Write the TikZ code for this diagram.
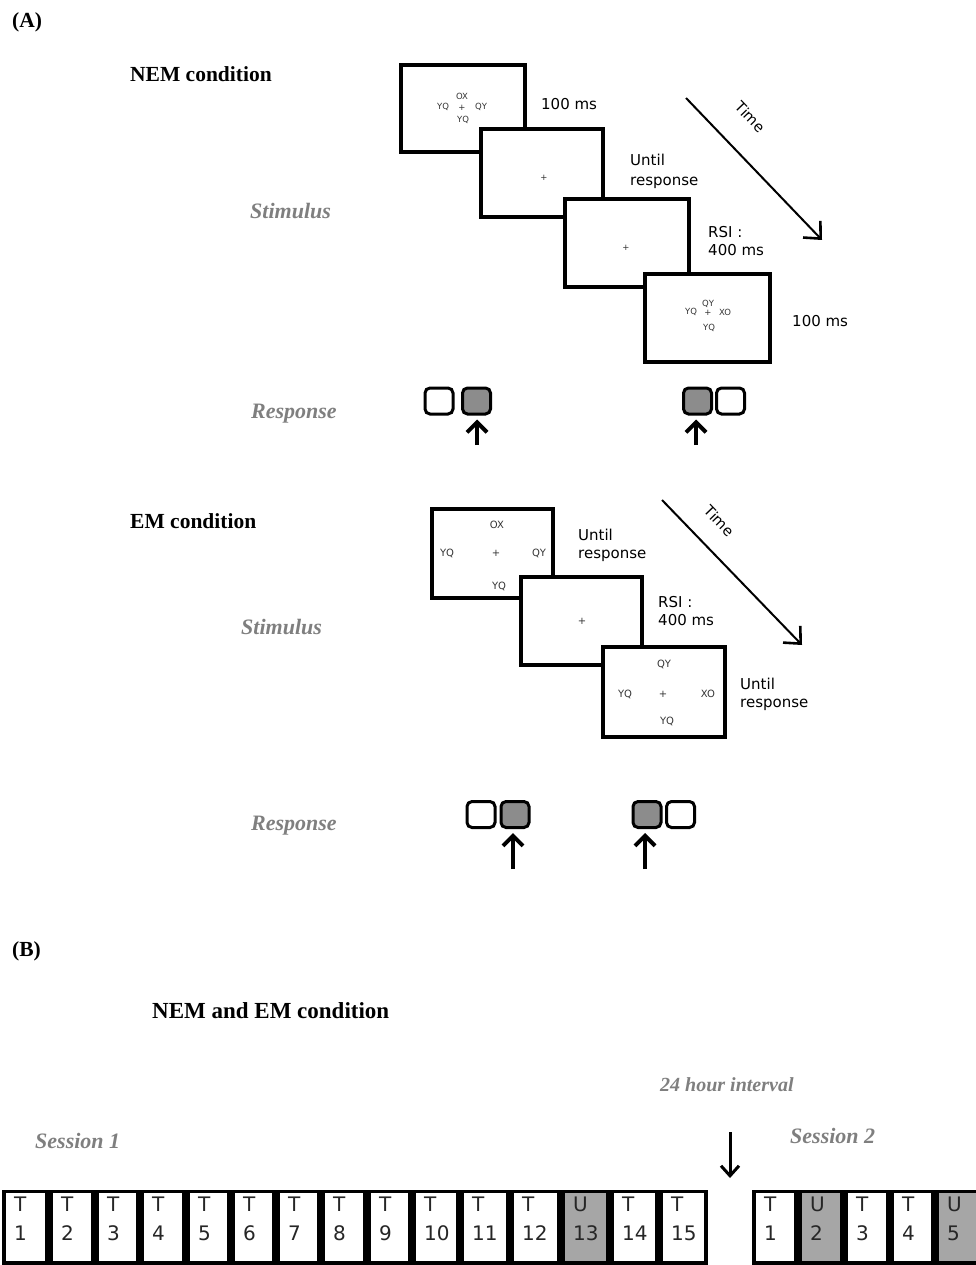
\documentclass[tikz,border=0pt]{standalone}
\usepackage{fontspec}
\setmainfont{Liberation Serif}
\newfontfamily\sansf{DejaVu Sans}
\usetikzlibrary{arrows.meta}
\definecolor{lblgray}{HTML}{7F7F7F}
\definecolor{keygray}{HTML}{8C8C8C}
\definecolor{cellgray}{HTML}{A6A6A6}
\tikzset{
  frame/.style={draw, line width=3.5, fill=white, inner sep=0, outer sep=0},
  keybox/.style={draw, line width=3, rounded corners=5, minimum width=28, minimum height=26, inner sep=0},
  pressarrow/.style={line width=4, -{Straight Barb[length=10,width=20,line width=4]}, shorten >=4},
  timearrow/.style={line width=2, -{Straight Barb[length=13,width=24,line width=2.6]}},
  head/.style={font=\fontsize{21.5}{24}\selectfont\bfseries, anchor=base west, inner sep=0},
  glabel/.style={font=\fontsize{22}{24}\selectfont\bfseries\itshape, text=lblgray, anchor=base west, inner sep=0},
  dur/.style={font=\sansf\fontsize{15}{18}\selectfont, anchor=base west, inner sep=0},
  stimS/.style={font=\sansf\fontsize{8.5}{10}\selectfont, text=black!80, inner sep=0},
  stimL/.style={font=\sansf\fontsize{10}{12}\selectfont, text=black!80, inner sep=0},
  timelbl/.style={font=\sansf\fontsize{14.5}{16}\selectfont, rotate=-46, inner sep=0},
  cell/.style={draw, line width=3.5, inner sep=0},
  celltext/.style={font=\sansf\fontsize{20}{22}\selectfont, text=black!85, anchor=base west, inner sep=0},
}
\begin{document}
\begin{tikzpicture}[x=1pt,y=-1pt]
\useasboundingbox (0,0) rectangle (975,1265);

% ---------------- (A) ----------------
\node[head] (labA) at (12,28) {(A)};
\node[head] (nemhead) at (130,82) {NEM condition};
\node[glabel] (stim1) at (250,219) {Stimulus};
\node[glabel] (resp1) at (251,418) {Response};

% NEM frames
\node[frame, minimum width=124, minimum height=87] (f1) at (463,108.5) {};
\node[stimS] (f1a) at (443,107) {YQ};
\node[stimS] (f1b) at (462,96) {OX};
\node[stimS] (f1c) at (462,108) {+};
\node[stimS] (f1d) at (481,107) {QY};
\node[stimS] (f1e) at (463,120) {YQ};

\node[frame, minimum width=122, minimum height=88] (f2) at (542,173) {};
\node[stimS] (f2a) at (544,178) {+};

\node[frame, minimum width=124, minimum height=88] (f3) at (627,243) {};
\node[stimS] (f3a) at (626,248) {+};

\node[frame, minimum width=125, minimum height=88] (f4) at (707.5,318) {};
\node[stimS] (f4a) at (691,312) {YQ};
\node[stimS] (f4b) at (708,304) {QY};
\node[stimS] (f4c) at (708,313) {+};
\node[stimS] (f4d) at (725,312) {XO};
\node[stimS] (f4e) at (709,328) {YQ};

\node[dur] (d1) at (541,110) {100 ms};
\node[dur] (d2a) at (630,166) {Until};
\node[dur] (d2b) at (630,186) {response};
\node[dur] (d3a) at (708,237) {RSI :};
\node[dur] (d3b) at (708,255) {400 ms};
\node[dur] (d4) at (792,326) {100 ms};

\coordinate (t0) at (686,98);
\coordinate (t1) at (822,240);
\draw[timearrow] (t0) -- (t1);
\node[timelbl] (time1) at (750,117) {Time};

% NEM response keys
\node[keybox, fill=white] (k1) at (439,401) {};
\node[keybox, fill=keygray] (k2) at (476.5,401) {};
\node[keybox, fill=keygray] (k3) at (697.5,401) {};
\node[keybox, fill=white] (k4) at (730.5,401) {};
\coordinate (a1) at (477,445);
\coordinate (a2) at (696,445);
\draw[pressarrow] (a1) -- (a1 |- k2.south);
\draw[pressarrow] (a2) -- (a2 |- k3.south);

% ---------------- EM ----------------
\node[head] (emhead) at (130,528) {EM condition};
\node[glabel] (stim2) at (241,634) {Stimulus};
\node[glabel] (resp2) at (251,830) {Response};

\node[frame, minimum width=121, minimum height=89] (g1) at (492.5,553.5) {};
\node[stimL] (g1a) at (497,525) {OX};
\node[stimL] (g1b) at (447,553) {YQ};
\node[stimL] (g1c) at (496,553) {+};
\node[stimL] (g1d) at (539,553) {QY};
\node[stimL] (g1e) at (499,586) {YQ};

\node[frame, minimum width=121, minimum height=88] (g2) at (581.5,621) {};
\node[stimL] (g2a) at (582,621) {+};

\node[frame, minimum width=122, minimum height=90] (g3) at (664,692) {};
\node[stimL] (g3a) at (664,664) {QY};
\node[stimL] (g3b) at (625,694) {YQ};
\node[stimL] (g3c) at (663,694) {+};
\node[stimL] (g3d) at (708,694) {XO};
\node[stimL] (g3e) at (667,721) {YQ};

\node[dur] (e1a) at (578,540) {Until};
\node[dur] (e1b) at (578,558) {response};
\node[dur] (e2a) at (658,607) {RSI :};
\node[dur] (e2b) at (658,625) {400 ms};
\node[dur] (e3a) at (740,689) {Until};
\node[dur] (e3b) at (740,707) {response};

\coordinate (t2) at (662,500);
\coordinate (t3) at (802,645);
\draw[timearrow] (t2) -- (t3);
\node[timelbl] (time2) at (719,521) {Time};

\node[keybox, fill=white] (k5) at (481,814.5) {};
\node[keybox, fill=keygray] (k6) at (515,814.5) {};
\node[keybox, fill=keygray] (k7) at (647,814.5) {};
\node[keybox, fill=white] (k8) at (680.5,814.5) {};
\coordinate (a3) at (513,869);
\coordinate (a4) at (645,869);
\draw[pressarrow] (a3) -- (a3 |- k6.south);
\draw[pressarrow] (a4) -- (a4 |- k7.south);

% ---------------- (B) ----------------
\node[head] (labB) at (12,956) {(B)};
\node[font=\fontsize{23}{26}\selectfont\bfseries, anchor=base west, inner sep=0] (bhead) at (152,1018) {NEM and EM condition};
\node[glabel, font=\fontsize{20}{22}\selectfont\bfseries\itshape] (interval) at (660,1091) {24 hour interval};
\node[glabel] (sess1) at (35,1148) {Session 1};
\node[glabel] (sess2) at (790,1143) {Session 2};

\coordinate (dn0) at (730,1132);
\coordinate (dn1) at (730,1178);
\draw[line width=3, -{Straight Barb[length=10,width=18,line width=3]}] (dn0) -- (dn1);

% Session 1 cells
\foreach \l/\r/\lt/\num/\fc [count=\i] in {
  2/49/T/1/white, 49/95/T/2/white, 95/140/T/3/white, 140/186/T/4/white,
  186/231/T/5/white, 231/276/T/6/white, 276/321/T/7/white, 321/367/T/8/white,
  367/412/T/9/white, 412/460/T/10/white, 460/510/T/11/white, 510/561/T/12/white,
  561/610/U/13/cellgray, 610/659/T/14/white, 659/708/T/15/white}{
  \path[cell, fill=\fc] (\l+1.8,1191.5) rectangle (\r-1.8,1263);
  \node[celltext] (sa\i) at (\l+12,1211) {\lt};
  \node[celltext] (sb\i) at (\l+12,1240) {\num};
}
% Session 2 cells
\foreach \l/\r/\lt/\num/\fc [count=\i] in {
  752/798/T/1/white, 798/844/U/2/cellgray, 844/890/T/3/white,
  890/935/T/4/white, 935/990/U/5/cellgray}{
  \path[cell, fill=\fc] (\l+1.8,1191.5) rectangle (\r-1.8,1263);
  \node[celltext] (ta\i) at (\l+12,1211) {\lt};
  \node[celltext] (tb\i) at (\l+12,1240) {\num};
}
\end{tikzpicture}
\end{document}
